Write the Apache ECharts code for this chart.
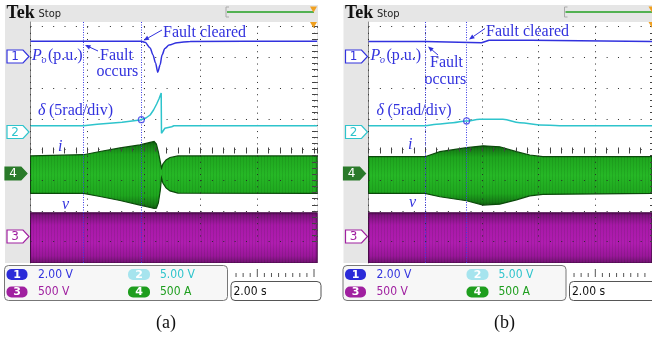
<!DOCTYPE html>
<html><head><meta charset="utf-8">
<script src="https://cdn.jsdelivr.net/npm/echarts@6/dist/echarts.min.js"></script>
<style>html,body{margin:0;padding:0;background:#fff}#c{width:652px;height:337px}</style>
</head><body><div id="c"></div>
<script>
// ---------- DATA (time: s from left screen edge; values: screen divisions from centre line) ----------
const faultA = [1.87, 3.91];           // fault occurs, fault cleared  (a)
const faultB = [2.00, 3.46];           // fault occurs, fault cleared  (b)

// (a) Po
const poA_t = [0, 3.90, 4.04, 4.22, 4.32, 4.41, 4.49, 4.57, 4.64, 4.74, 4.89, 5.17, 5.63, 10.11];
const poA_v = [3.53, 3.53, 3.49, 3.31, 3.08, 2.82, 2.52, 2.75, 3.08, 3.29, 3.40, 3.48, 3.52, 3.53];
// (a) delta
const dA_t = [0, 1.87, 1.92, 2.35, 3.23, 3.86, 4.07, 4.22, 4.34, 4.45, 4.53, 4.61, 4.62, 4.74, 4.98, 5.06, 10.11];
const dA_v = [0.775, 0.775, 0.814, 0.821, 0.886, 0.961, 1.026, 1.124, 1.287, 1.482, 1.645, 1.840, 0.528, 0.691, 0.743, 0.775, 0.775];
// (a) current envelope
const iA_t   = [0, 1.87, 2.45, 3.16, 3.86, 4.22, 4.36, 4.44, 4.51, 4.58, 4.62, 4.67, 4.78, 4.92, 5.20, 10.11];
const iA_top = [-0.21, -0.17, -0.065, 0.05, 0.15, 0.23, 0.26, 0.18, -0.08, -0.41, -0.60, -0.47, -0.34, -0.26, -0.21, -0.21];
const iA_bot = [-1.43, -1.43, -1.53, -1.66, -1.81, -1.89, -1.92, -1.91, -1.74, -1.32, -0.93, -1.09, -1.25, -1.35, -1.42, -1.43];
// (a) voltage envelope
const vA_t = [0, 10.11];
const vA_top = [-2.06, -2.06];
const vA_bot = [-3.70, -3.70];
const circA = [[3.91, 0.97]];

// (b) Po
const poB_t = [0, 1.99, 2.02, 3.99, 4.25, 5.75, 5.80, 10.0];
const poB_v = [3.52, 3.52, 3.48, 3.48, 3.56, 3.56, 3.52, 3.52];
// (b) delta
const dB_t = [0, 1.99, 2.40, 2.98, 3.44, 3.93, 4.74, 5.34, 6.04, 6.74, 10.0];
const dB_v = [0.775, 0.775, 0.82, 0.873, 0.928, 0.984, 0.984, 0.873, 0.798, 0.775, 0.775];
// (b) current envelope
const iB_t   = [0, 1.99, 2.52, 3.46, 4.04, 4.63, 5.22, 5.69, 6.15, 10.0];
const iB_top = [-0.235, -0.235, -0.07, 0.06, 0.12, 0.09, -0.07, -0.18, -0.235, -0.235];
const iB_bot = [-1.43, -1.43, -1.54, -1.67, -1.81, -1.78, -1.64, -1.51, -1.46, -1.43];
// (b) voltage envelope
const vB_t = [0, 10.0];
const vB_top = [-2.06, -2.06];
const vB_bot = [-3.70, -3.70];
const circB = [[3.46, 0.93]];

const scaleTexts = [['1', '2.00 V'], ['2', '5.00 V'], ['3', '500 V'], ['4', '500 A']];
const timeText = '2.00 s';

// ---------- LAYOUT / STYLE ----------
const SERIF = '"Liberation Serif","Times New Roman",serif';
const SANSC = '"DejaVu Sans Condensed","Liberation Sans Narrow","DejaVu Sans",sans-serif';
const BLUE = '#3232de', CYAN = '#2ec4cc', GREEN = '#1e9e1e', PURPLE = '#a020a0', ORANGE = '#f0a020';
const CX = 56.7, CY = 30.7, YC = 149.5, TOP = 22, BOT = 263;

const stripe = document.createElement('canvas');
stripe.width = 3; stripe.height = 1;
(function(){ const g = stripe.getContext('2d'); g.fillStyle = 'rgba(0,40,0,0.10)'; g.fillRect(0,0,1,1); })();

const gradGreen = new echarts.graphic.LinearGradient(0,0,0,1,[
  {offset:0,color:'#0c560c'},{offset:0.06,color:'#157a15'},{offset:0.2,color:'#1ea61e'},
  {offset:0.5,color:'#26b826'},{offset:0.8,color:'#1ea61e'},{offset:0.94,color:'#157a15'},{offset:1,color:'#0c560c'}]);
const gradPurple = new echarts.graphic.LinearGradient(0,0,0,1,[
  {offset:0,color:'#4a0a4a'},{offset:0.06,color:'#7c127c'},{offset:0.25,color:'#a818a8'},
  {offset:0.6,color:'#b01cb0'},{offset:0.85,color:'#9a169a'},{offset:1,color:'#6a106a'}]);

const panels = [
  {L:30.5, Wd:286.5, ox:0,     faults:faultA, po:[poA_t,poA_v], d:[dA_t,dA_v], i:[iA_t,iA_top,iA_bot], v:[vA_t,vA_top,vA_bot], circ:circA, poSmooth:0.3, dSmooth:false},
  {L:368.5, Wd:283.5, ox:338.5, faults:faultB, po:[poB_t,poB_v], d:[dB_t,dB_v], i:[iB_t,iB_top,iB_bot], v:[vB_t,vB_top,vB_bot], circ:circB, poSmooth:false, dSmooth:0.4}
];

function band(gi, ts, top, bot, grad, stroke) {
  return {
    type:'custom', xAxisIndex:gi, yAxisIndex:gi, z:3, silent:true, clip:true,
    data: ts.map((t,k)=>[t, top[k], bot[k]]), encode:{x:0, y:[1,2]},
    renderItem: function(params, api) {
      if (params.dataIndex !== 0) return null;
      const pts = [];
      for (let k=0;k<ts.length;k++) pts.push(api.coord([ts[k], top[k]]));
      for (let k=ts.length-1;k>=0;k--) pts.push(api.coord([ts[k], bot[k]]));
      return {type:'group', children:[
        {type:'polygon', shape:{points:pts}, style:{fill:grad, stroke:stroke, lineWidth:1.2}},
        {type:'polygon', shape:{points:pts}, style:{fill:{image:stripe, repeat:'repeat'}}}
      ]};
    }
  };
}

const grids = [], xAxes = [], yAxes = [], series = [];
const hidden = {show:false};
const noAx = {axisLine:hidden, axisTick:hidden, axisLabel:hidden, splitLine:hidden};
panels.forEach((p, pi) => {
  const g0 = pi*4;
  const tmax = p.Wd/(CX/2);
  const gmax = (p.Wd - 5*CX)/CX;
  // data grid
  grids.push({left:p.L, top:TOP, width:p.Wd, height:BOT-TOP});
  xAxes.push({gridIndex:g0, type:'value', min:0, max:tmax, interval:0.4, position:'top', z:2,
    axisLine:{show:false}, axisTick:{show:true, inside:true, length:4, lineStyle:{color:'#444'}},
    axisLabel:hidden, splitLine:hidden});
  yAxes.push({gridIndex:g0, type:'value', min:-(BOT-YC)/CY, max:(YC-TOP)/CY, z:2,
    axisLine:{show:true, lineStyle:{color:'#8a8a8a'}}, axisTick:hidden, axisLabel:hidden, splitLine:hidden});
  // graticule grid
  grids.push({left:p.L, top:YC-4*CY, width:p.Wd, height:7*CY});
  xAxes.push({gridIndex:g0+1, type:'value', min:-5, max:gmax, interval:1, z:5,
    axisLine:hidden, axisTick:hidden, axisLabel:hidden,
    splitLine:{show:true, lineStyle:{color:'#2a2a2a', width:1, type:[1, CY/5-1]}}});
  yAxes.push({gridIndex:g0+1, type:'value', min:-3, max:4, interval:1, position:'left', z:5,
    axisLine:hidden, axisLabel:hidden,
    axisTick:{show:true, inside:true, length:4, lineStyle:{color:'#555'}},
    minorTick:{show:true, splitNumber:5, length:4, lineStyle:{color:'#555'}},
    splitLine:{show:true, lineStyle:{color:'#2a2a2a', width:1, type:[1, CX/5-1]}}});
  // horizontal centre line ticks
  grids.push({left:p.L, top:YC-2, width:p.Wd, height:4});
  xAxes.push({gridIndex:g0+2, type:'value', min:-5, max:gmax, interval:1, position:'bottom', z:5,
    axisLine:hidden, axisLabel:hidden, splitLine:hidden,
    axisTick:{show:true, inside:true, length:4, lineStyle:{color:'#444'}},
    minorTick:{show:true, splitNumber:5, length:4, lineStyle:{color:'#444'}}});
  yAxes.push(Object.assign({gridIndex:g0+2, type:'value', min:0, max:1, show:false}, noAx));
  // vertical centre line ticks
  grids.push({left:p.L+5*CX-2, top:YC-4*CY, width:4, height:7*CY});
  xAxes.push(Object.assign({gridIndex:g0+3, type:'value', min:0, max:1, show:false}, noAx));
  yAxes.push({gridIndex:g0+3, type:'value', min:-3, max:4, interval:1, position:'left', z:5,
    axisLine:hidden, axisLabel:hidden, splitLine:hidden,
    axisTick:{show:true, inside:true, length:4, lineStyle:{color:'#444'}},
    minorTick:{show:true, splitNumber:5, length:4, lineStyle:{color:'#444'}}});

  series.push(band(g0, p.v[0], p.v[1], p.v[2], gradPurple, '#4a0a4a'));
  series.push(band(g0, p.i[0], p.i[1], p.i[2], gradGreen, '#0b4a0b'));
  series.push({type:'line', xAxisIndex:g0, yAxisIndex:g0, z:6, symbol:'none', silent:true,
    smooth:p.dSmooth, smoothMonotone:'x',
    data:p.d[0].map((t,k)=>[t, p.d[1][k]]), lineStyle:{color:CYAN, width:1.5}});
  series.push({type:'line', xAxisIndex:g0, yAxisIndex:g0, z:6, symbol:'none', silent:true,
    smooth:p.poSmooth, smoothMonotone:'x',
    data:p.po[0].map((t,k)=>[t, p.po[1][k]]), lineStyle:{color:BLUE, width:1.5},
    markLine:{silent:true, symbol:['none','none'], label:{show:false}, animation:false,
      lineStyle:{color:'#3a3ae6', type:[1,1.5], width:1},
      data:p.faults.map(f=>({xAxis:f}))}});
  series.push({type:'scatter', xAxisIndex:g0, yAxisIndex:g0, z:7, silent:true, symbol:'circle', symbolSize:6,
    data:p.circ, itemStyle:{color:'rgba(255,255,255,0)', borderColor:'#3a3ae6', borderWidth:1.2}});
});

// ---------- DECORATIONS ----------
function txt(x, y, text, font, color, align) {
  return {type:'text', z:10, silent:true, style:{x:x, y:y, text:text, font:font, fill:color,
    align:align||'left', textAlign:align||'left', verticalAlign:'middle', textVerticalAlign:'middle'}};
}
function arrow(x1, y1, x2, y2, color) {
  const a = Math.atan2(y2-y1, x2-x1), L = 5.5, w = 2.3;
  const bx = x2 - L*Math.cos(a), by = y2 - L*Math.sin(a);
  const px = -Math.sin(a)*w, py = Math.cos(a)*w;
  return [
    {type:'line', z:10, silent:true, shape:{x1:x1, y1:y1, x2:bx, y2:by}, style:{stroke:color, lineWidth:1}},
    {type:'polygon', z:10, silent:true, shape:{points:[[x2,y2],[bx+px,by+py],[bx-px,by-py]]}, style:{fill:color}}
  ];
}
function marker(x0, x1, yc, color, filled, label) {
  const h = 13;
  return [
    {type:'polygon', z:4, silent:true, shape:{points:[[x0,yc-h/2],[x1,yc-h/2],[x1+6,yc],[x1,yc+h/2],[x0,yc+h/2]]},
      style:{fill:filled?color:'#fff', stroke:color, lineWidth:1.2}},
    txt((x0+x1)/2, yc+0.5, label, '12px "DejaVu Sans",sans-serif', filled?'#fff':color, 'center')
  ];
}
function badge(x, y, w, fill, label) {
  return [
    {type:'rect', z:4, silent:true, shape:{x:x, y:y, width:w, height:11, r:5}, style:{fill:fill}},
    txt(x+w/2, y+5.8, label, 'bold 11px "DejaVu Sans",sans-serif', '#fff', 'center')
  ];
}

const G = [];
const chColor = {'1':'#2b2bd8', '2':'#a6e4ee', '3':PURPLE, '4':GREEN};
const chText  = {'1':BLUE, '2':CYAN, '3':PURPLE, '4':GREEN};
const LBL = '16px ' + SERIF, LBLI = 'italic 16px ' + SERIF;
panels.forEach((p, pi) => {
  const o = p.ox;
  G.push({type:'rect', z:0, silent:true, shape:{x:5+o, y:5, width:313, height:258}, style:{fill:'#e6e6e6'}});
  G.push({type:'rect', z:1, silent:true, shape:{x:p.L, y:TOP, width:p.Wd, height:BOT-TOP}, style:{fill:'#fff'}});
  G.push(txt(6.5+o, 13.5, 'Tek', 'bold 18px ' + SERIF, '#111'));
  G.push(txt(38.5+o, 14.5, 'Stop', '11px ' + SANSC, '#222'));
  G.push({type:'polyline', z:4, silent:true, shape:{points:[[229+o,7],[226+o,7],[226+o,17],[229+o,17]]}, style:{stroke:'#aaa', lineWidth:1}});
  G.push({type:'line', z:4, silent:true, shape:{x1:227+o, y1:12, x2:314+o, y2:12}, style:{stroke:'#22a022', lineWidth:1.5}});
  G.push({type:'polygon', z:5, silent:true, shape:{points:[[310+o,6.5],[317+o,6.5],[313.5+o,12.5]]}, style:{fill:ORANGE}});
  G.push({type:'polygon', z:9, silent:true, shape:{points:[[310+o,22],[317+o,22],[313.5+o,28]]}, style:{fill:ORANGE}});
  // channel markers
  G.push(...marker(7+o, 23+o, 56.5, BLUE, false, '1'));
  G.push(...marker(7+o, 23+o, 132, CYAN, false, '2'));
  G.push(...marker(5+o, 21+o, 173.5, '#2a7a2a', true, '4'));
  G.push(...marker(7+o, 23+o, 236.5, PURPLE, false, '3'));
  // info box
  G.push({type:'rect', z:3, silent:true, shape:{x:4.5+o, y:265.5, width:223, height:35, r:4}, style:{fill:'#f7f7f7', stroke:'#777', lineWidth:1}});
  const pos = [[6.5, 269, 38, 274.5], [128, 269, 160, 274.5], [6.5, 286.5, 38, 292], [128, 286.5, 160, 292]];
  scaleTexts.forEach((s, k) => {
    const q = pos[k];
    G.push(...badge(q[0]+o, q[1], k%2 ? 22 : 21, chColor[s[0]], s[0]));
    G.push(txt(q[2]+o, q[3], s[1], '12px ' + SANSC, chText[s[0]]));
  });
  // time ruler
  const xr = p.L + p.Wd;
  for (let k = 0; ; k++) {
    const x = p.L + k*CX/8;
    if (x > xr - 1) break;
    if (x < 232 + o) continue;
    const tall = k % 8 === 0;
    G.push({type:'line', z:4, silent:true, shape:{x1:x, y1:tall?269:273, x2:x, y2:277}, style:{stroke:'#555', lineWidth:1}});
  }
  G.push({type:'rect', z:3, silent:true, shape:{x:231+o, y:281.5, width:90, height:19, r:4}, style:{fill:'#fff', stroke:'#555', lineWidth:1}});
  G.push(txt(233.5+o, 291.5, timeText, '12px ' + SANSC, '#111'));
  G.push(txt(166+o, 323, pi === 0 ? '(a)' : '(b)', '18px ' + SERIF, '#111', 'center'));
  // trace labels
  G.push(txt(32+o, 56, 'P', LBLI, BLUE));
  G.push(txt(41.5+o, 60.5, 'o', 'italic 10px ' + SERIF, BLUE));
  G.push(txt(48+o, 56, '(p.u.)', LBL, BLUE));
  G.push(txt(38+o, 111, 'δ', LBLI, BLUE));
  G.push(txt(49+o, 111, '(5rad/div)', LBL, BLUE));
});
// annotations (a)
G.push(txt(163, 32.5, 'Fault cleared', LBL, BLUE));
G.push(...arrow(162, 30, 143.5, 40.5, BLUE));
G.push(txt(100, 56, 'Fault', LBL, BLUE));
G.push(txt(96.5, 72, 'occurs', LBL, BLUE));
G.push(...arrow(98, 51, 85, 45, BLUE));
G.push(txt(58, 147, 'i', LBLI, BLUE));
G.push(txt(62, 205, 'v', LBLI, BLUE));
// annotations (b)
G.push(txt(486, 31.5, 'Fault cleared', LBL, BLUE));
G.push(...arrow(485, 28.5, 469, 39.5, BLUE));
G.push(txt(430, 63, 'Fault', LBL, BLUE));
G.push(txt(424.5, 80, 'occurs', LBL, BLUE));
G.push(...arrow(438, 55, 428, 46.5, BLUE));
G.push(txt(408, 145, 'i', LBLI, BLUE));
G.push(txt(409, 203, 'v', LBLI, BLUE));

const chart = echarts.init(document.getElementById('c'), null, {renderer:'canvas'});
chart.setOption({
  animation:false,
  backgroundColor:'#fff',
  grid:grids, xAxis:xAxes, yAxis:yAxes, series:series,
  visualMap:[
    {type:'piecewise', show:false, seriesIndex:3, dimension:0,
      pieces:[{gte:4.05, lte:5.0, color:'#1e1e86'}], outOfRange:{color:BLUE}},
    {type:'piecewise', show:false, seriesIndex:2, dimension:0,
      pieces:[{gte:4.2, lt:4.6, color:'#22a8b0'}, {gte:4.6, lte:4.64, color:'#0b3b3b'}], outOfRange:{color:CYAN}}
  ],
  graphic:{elements:G}
});
</script>
</body></html>
